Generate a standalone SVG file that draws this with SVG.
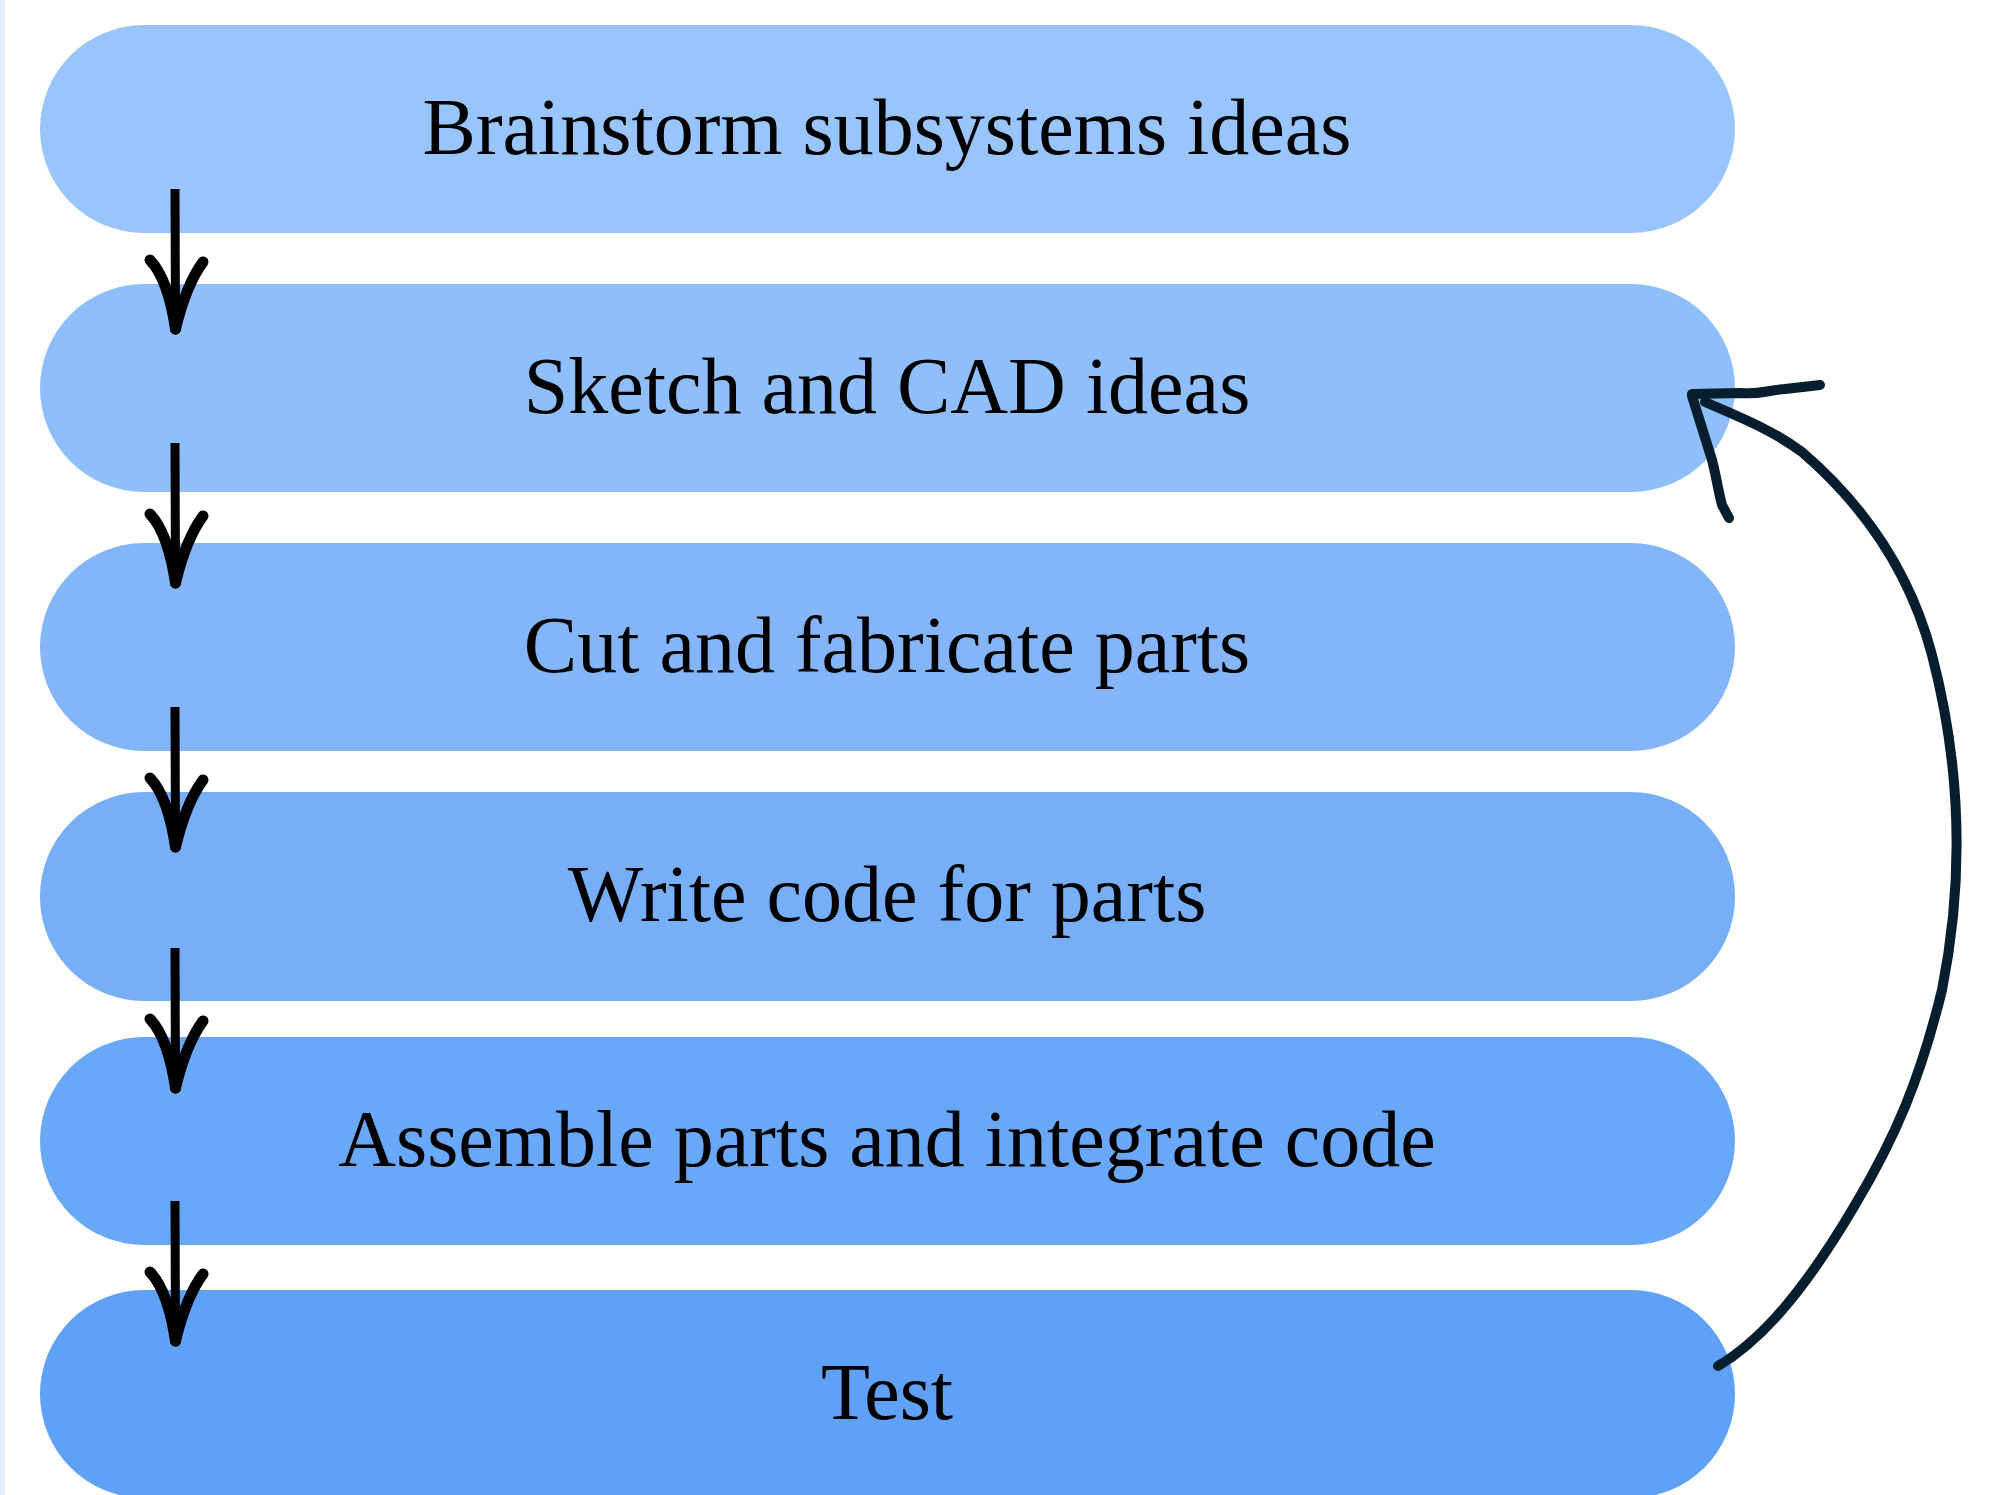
<svg xmlns="http://www.w3.org/2000/svg" width="2001" height="1495" viewBox="0 0 2001 1495">
<style>
.node text{font-family:"Liberation Serif","Times New Roman",serif;font-size:80px;fill:#000;text-anchor:middle}
.shaft{stroke:#000;stroke-width:9;fill:none;stroke-linecap:butt}
.arm{stroke:#000;stroke-width:11;fill:none;stroke-linecap:round}
.ret{stroke:#071e2e;stroke-width:10;fill:none;stroke-linecap:round;stroke-linejoin:round}
</style>
<defs>
<g id="arrow">
<path class="shaft" d="M175,0 L175.5,141"/>
<path class="arm" d="M150,71 Q168,90 175.5,140"/>
<path class="arm" d="M203,73 Q186,96 175.5,140"/>
</g>
</defs>
<rect x="0" y="0" width="2001" height="1495" fill="#ffffff"/>
<rect x="0" y="0" width="5" height="1495" fill="#e6effd"/>
<g id="node1" class="node">
<rect x="40" y="25" width="1695" height="208" rx="104" ry="104" fill="#99c5fe"/>
<text x="887" y="154">Brainstorm subsystems ideas</text>
</g>
<g id="node2" class="node">
<rect x="40" y="284" width="1695" height="208" rx="104" ry="104" fill="#8fbefc"/>
<text x="887" y="413">Sketch and CAD ideas</text>
</g>
<g id="node3" class="node">
<rect x="40" y="543" width="1695" height="208" rx="104" ry="104" fill="#83b5f8"/>
<text x="887" y="672">Cut and fabricate parts</text>
</g>
<g id="node4" class="node">
<rect x="40" y="792" width="1695" height="209" rx="104" ry="104" fill="#76aef8"/>
<text x="887" y="921">Write code for parts</text>
</g>
<g id="node5" class="node">
<rect x="40" y="1037" width="1695" height="208" rx="104" ry="104" fill="#69a8f8"/>
<text x="887" y="1166">Assemble parts and integrate code</text>
</g>
<g id="node6" class="node">
<rect x="40" y="1290" width="1695" height="208" rx="104" ry="104" fill="#5ea1f7"/>
<text x="887" y="1419">Test</text>
</g>
<g id="connectors">
<use href="#arrow" transform="translate(0,189)"/>
<use href="#arrow" transform="translate(0,443)"/>
<use href="#arrow" transform="translate(0,707)"/>
<use href="#arrow" transform="translate(0,948)"/>
<use href="#arrow" transform="translate(0,1201)"/>
<path class="ret" d="M1718,1366 C1762,1340 1805,1290 1855,1205 C1895,1138 1920,1080 1942,990 C1964,880 1962,770 1932,655 C1907,560 1852,495 1802,452 C1772,430 1742,418 1705,402"/>
<path class="ret" d="M1692,394 L1740,393 C1760,395 1768,390 1785,389 L1820,385" stroke-width="12"/>
<path class="ret" d="M1692,396 L1712,460 C1716,475 1718,490 1722,505 L1729,518" stroke-width="12"/>
</g>
</svg>
